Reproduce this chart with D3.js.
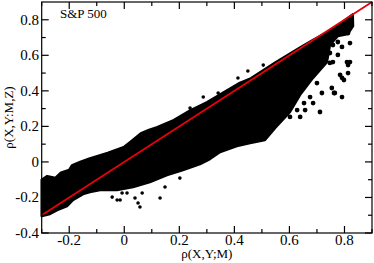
<!DOCTYPE html>
<html>
<head>
<meta charset="utf-8">
<script src="https://cdn.jsdelivr.net/npm/d3@7.9.0/dist/d3.min.js"></script>
<style>
  html, body { margin: 0; padding: 0; background: #fff; }
  svg { display: block; font-family: "Liberation Serif", "DejaVu Serif", serif; }
</style>
</head>
<body>
<svg id="chart" width="374" height="263"></svg>
<script>
// ===== data =====
// upper edge of the dense cloud (left to right)
const upperX = [-0.30, -0.28, -0.25, -0.23, -0.20, -0.19, -0.16, -0.125, -0.06, 0.0, 0.02, 0.06, 0.09, 0.12, 0.18, 0.24, 0.30, 0.36, 0.42, 0.46, 0.55, 0.64, 0.69, 0.75, 0.79, 0.83];
const upperY = [-0.10, -0.08, -0.09, -0.06, -0.045, -0.02, 0.0, 0.02, 0.05, 0.085, 0.11, 0.16, 0.18, 0.195, 0.235, 0.29, 0.335, 0.39, 0.445, 0.47, 0.56, 0.645, 0.69, 0.74, 0.785, 0.83];
// lower edge of the dense cloud (left to right)
const lowerX = [-0.30, -0.27, -0.244, -0.208, -0.186, -0.15, -0.125, -0.088, -0.027, 0.032, 0.093, 0.155, 0.213, 0.275, 0.311, 0.348, 0.409, 0.457, 0.511, 0.548, 0.602, 0.638, 0.685, 0.736, 0.747, 0.776, 0.812, 0.831];
const lowerY = [-0.304, -0.293, -0.271, -0.248, -0.214, -0.181, -0.169, -0.158, -0.158, -0.141, -0.113, -0.074, -0.046, -0.012, 0.016, 0.056, 0.089, 0.106, 0.123, 0.191, 0.281, 0.376, 0.472, 0.562, 0.658, 0.709, 0.720, 0.765];
// loose points outside the cloud
const looseX = [0.809, 0.813, 0.776, 0.758, 0.791, 0.820, 0.747, 0.776, 0.758, 0.809, 0.813, 0.784, 0.791, 0.813, 0.820, 0.747, 0.700, 0.718, 0.686, 0.675, 0.754, 0.765, 0.791, 0.657, 0.639, 0.711, 0.602, 0.653, 0.628, 0.762, 0.798,
  -0.044, -0.026, -0.008, 0.010, 0.039, 0.050, 0.057, 0.065, 0.130, 0.148, 0.202, -0.015,
  0.287, 0.341, 0.413, 0.239, 0.449, 0.505];
const looseY = [0.759, 0.725, 0.675, 0.658, 0.647, 0.669, 0.613, 0.602, 0.562, 0.562, 0.545, 0.490, 0.473, 0.500, 0.562, 0.557, 0.444, 0.388, 0.331, 0.365, 0.416, 0.388, 0.365, 0.292, 0.253, 0.281, 0.253, 0.331, 0.292, 0.388, 0.461,
  -0.198, -0.214, -0.175, -0.175, -0.203, -0.231, -0.254, -0.175, -0.203, -0.141, -0.091, -0.214,
  0.365, 0.388, 0.472, 0.303, 0.512, 0.545];
const xTicks = [-0.2, 0, 0.2, 0.4, 0.6, 0.8];
const yTicks = [-0.4, -0.2, 0, 0.2, 0.4, 0.6, 0.8];
const xMinor = [-0.3, -0.1, 0.1, 0.3, 0.5, 0.7, 0.9];
const yMinor = [-0.3, -0.1, 0.1, 0.3, 0.5, 0.7];

// ===== layout =====
const svg = d3.select('#chart');
const padL = 41.7, padR = 372, padT = 2, padB = 233;
const x = d3.scaleLinear().domain([-0.3, 0.9]).range([padL, padR]);
const y = d3.scaleLinear().domain([-0.4, 0.9]).range([padB, padT]);

const plot = svg.append('g');

// cloud polygon: upper edge then lower edge reversed
const cloud = upperX.map((v, i) => [v, upperY[i]])
  .concat(lowerX.map((v, i) => [v, lowerY[i]]).reverse());
plot.append('path')
  .datum(cloud)
  .attr('d', d3.line().x(d => x(d[0])).y(d => y(d[1])).curve(d3.curveLinearClosed))
  .attr('fill', '#000')
  .attr('stroke', '#000')
  .attr('stroke-width', 2.5)
  .attr('stroke-linejoin', 'round');

plot.selectAll('circle.loose')
  .data(looseX.map((v, i) => [v, looseY[i]]))
  .join('circle')
    .attr('class', 'loose')
    .attr('cx', d => x(d[0]))
    .attr('cy', d => y(d[1]))
    .attr('r', d => d[0] > 0.55 ? 2.4 : 1.8)
    .attr('fill', '#000');

// red diagonal y = x
plot.append('line')
  .attr('x1', x(-0.3)).attr('y1', y(-0.3))
  .attr('x2', x(0.9)).attr('y2', y(0.9))
  .attr('stroke', '#e8000b')
  .attr('stroke-width', 1.8);

// ===== frame and ticks =====
const axes = svg.append('g').attr('stroke', '#000').attr('stroke-width', 1.2);
function ticks(vals, len) {
  vals.forEach(v => {
    axes.append('line').attr('x1', x(v)).attr('x2', x(v)).attr('y1', padB).attr('y2', padB - len);
    axes.append('line').attr('x1', x(v)).attr('x2', x(v)).attr('y1', padT).attr('y2', padT + len);
  });
}
function yticks(vals, len) {
  vals.forEach(v => {
    axes.append('line').attr('y1', y(v)).attr('y2', y(v)).attr('x1', padL).attr('x2', padL + len);
    axes.append('line').attr('y1', y(v)).attr('y2', y(v)).attr('x1', padR).attr('x2', padR - len);
  });
}
ticks(xTicks, 7); ticks(xMinor, 4);
yticks(yTicks, 7); yticks(yMinor, 4);
axes.append('rect')
  .attr('x', padL).attr('y', padT)
  .attr('width', padR - padL).attr('height', padB - padT)
  .attr('fill', 'none');

// tick labels
svg.append('g').selectAll('text')
  .data(xTicks)
  .join('text')
    .attr('x', d => x(d))
    .attr('y', 245)
    .attr('text-anchor', 'middle')
    .attr('font-size', 15)
    .text(d => String(+d.toFixed(1)));
svg.append('g').selectAll('text')
  .data(yTicks)
  .join('text')
    .attr('x', 39)
    .attr('y', d => y(d) + 5)
    .attr('text-anchor', 'end')
    .attr('font-size', 15)
    .text(d => String(+d.toFixed(1)));

// titles
svg.append('text')
  .attr('x', x((-0.3 + 0.9) / 2))
  .attr('y', 258)
  .attr('text-anchor', 'middle')
  .attr('font-size', 13)
  .text('ρ(X,Y;M)');
svg.append('text')
  .attr('transform', `translate(13,${(padT + padB) / 2}) rotate(-90)`)
  .attr('text-anchor', 'middle')
  .attr('font-size', 13)
  .text('ρ(X,Y:M,Z)');
svg.append('text')
  .attr('x', 60)
  .attr('y', 18)
  .attr('font-size', 13)
  .text('S&P 500');
</script>
</body>
</html>
